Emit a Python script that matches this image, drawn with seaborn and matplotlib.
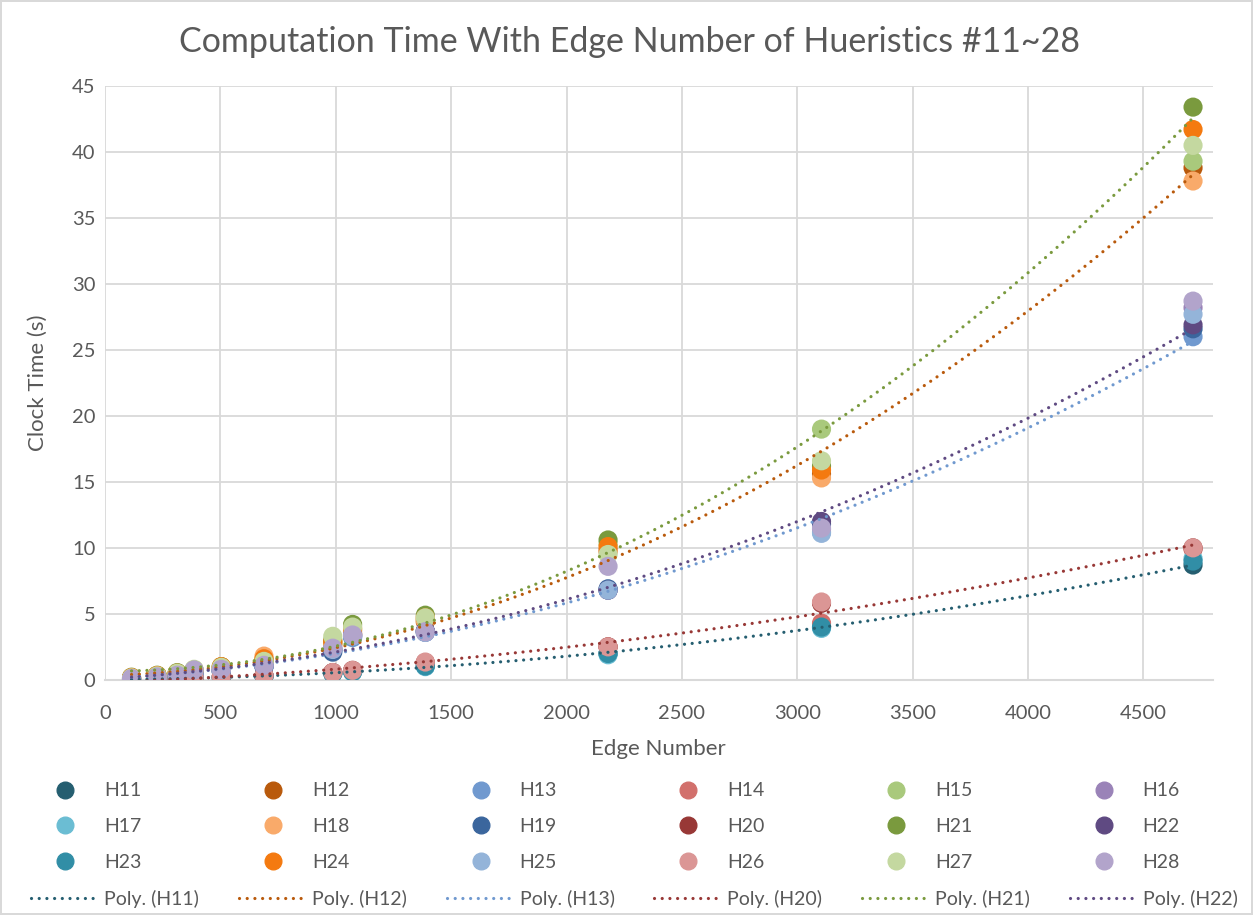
import numpy as np
import pandas as pd
import seaborn as sns
import matplotlib.pyplot as plt
from matplotlib.lines import Line2D

# edge numbers of the test graphs
edges = [115, 226, 313, 386, 504, 689, 987, 1073, 1388, 2180, 3105, 4715]

# clock time (s) per heuristic
H11 = [0.03, 0.06, 0.09, 0.12, 0.18, 0.28, 0.50, 0.62, 1.05, 2.0, 4.0, 8.7]
H12 = [0.15, 0.30, 0.45, 0.60, 0.90, 1.40, 2.70, 3.50, 4.40, 9.8, 15.6, 38.8]
H13 = [0.08, 0.20, 0.30, 0.45, 0.65, 1.00, 2.20, 3.20, 3.60, 6.8, 11.2, 26.0]
H14 = [0.04, 0.08, 0.12, 0.16, 0.22, 0.32, 0.55, 0.70, 1.30, 2.5, 4.3, 9.9]
H15 = [0.15, 0.30, 0.45, 0.65, 0.90, 1.30, 2.80, 3.80, 4.60, 10.3, 19.0, 39.3]
H16 = [0.08, 0.20, 0.30, 0.45, 0.70, 1.10, 2.40, 3.40, 3.60, 6.8, 11.4, 28.2]
H17 = [0.03, 0.06, 0.09, 0.12, 0.18, 0.27, 0.48, 0.60, 1.00, 1.9, 3.9, 9.2]
H18 = [0.15, 0.30, 0.50, 0.70, 1.00, 1.80, 2.80, 3.70, 4.50, 9.7, 15.3, 37.8]
H19 = [0.08, 0.20, 0.30, 0.45, 0.65, 1.00, 2.10, 3.30, 3.70, 6.9, 11.8, 26.6]
H20 = [0.04, 0.08, 0.12, 0.16, 0.22, 0.32, 0.55, 0.72, 1.30, 2.5, 5.8, 10.0]
H21 = [0.20, 0.35, 0.55, 0.75, 1.00, 1.50, 3.00, 4.20, 4.90, 10.6, 16.2, 43.4]
H22 = [0.08, 0.22, 0.30, 0.50, 0.70, 1.10, 2.30, 3.40, 3.70, 6.8, 12.0, 26.9]
H23 = [0.03, 0.06, 0.09, 0.12, 0.18, 0.28, 0.50, 0.62, 1.05, 2.0, 4.0, 9.0]
H24 = [0.18, 0.33, 0.50, 0.70, 1.00, 1.60, 2.90, 3.90, 4.70, 10.1, 15.9, 41.7]
H25 = [0.08, 0.20, 0.30, 0.45, 0.70, 1.10, 2.30, 3.30, 3.60, 6.8, 11.1, 27.7]
H26 = [0.04, 0.08, 0.12, 0.16, 0.23, 0.33, 0.56, 0.72, 1.35, 2.5, 5.9, 10.0]
H27 = [0.15, 0.30, 0.50, 0.80, 0.95, 1.40, 3.30, 4.00, 4.70, 9.5, 16.6, 40.5]
H28 = [0.10, 0.22, 0.35, 0.75, 0.80, 1.10, 2.40, 3.40, 3.65, 8.6, 11.5, 28.7]

names = ['H11', 'H12', 'H13', 'H14', 'H15', 'H16', 'H17', 'H18', 'H19',
         'H20', 'H21', 'H22', 'H23', 'H24', 'H25', 'H26', 'H27', 'H28']
values = [H11, H12, H13, H14, H15, H16, H17, H18, H19,
          H20, H21, H22, H23, H24, H25, H26, H27, H28]
colors = ['#255e70', '#b95a0c', '#7099cf', '#d2706c', '#a9c97c', '#9a83b8',
          '#6bbdd3', '#f9aa6a', '#3b669d', '#983836', '#7a9a3e', '#5f4a82',
          '#318ea6', '#f47a10', '#94b4d9', '#db9695', '#c4d8a0', '#b2a4cb']
trend_series = ['H11', 'H12', 'H13', 'H20', 'H21', 'H22']

df = pd.DataFrame({
    'series': np.repeat(names, len(edges)),
    'edges': edges * len(names),
    'time': np.concatenate(values),
})

sns.set_style('white')
plt.rcParams['font.family'] = ['Lato', 'DejaVu Sans']
grey = '#595959'

fig = plt.figure(figsize=(12.53, 9.15), dpi=100)
ax = fig.add_axes([0.0838, 0.257, 0.884, 0.649])

sns.scatterplot(data=df, x='edges', y='time', hue='series', palette=colors,
                s=190, linewidth=0, legend=False, ax=ax, zorder=3)

# 2nd order polynomial trendlines
pal = dict(zip(names, colors))
xs = np.linspace(min(edges), max(edges), 300)
for n in trend_series:
    c = np.polyfit(edges, values[names.index(n)], 2)
    ax.plot(xs, np.polyval(c, xs), color=pal[n], lw=2.3,
            linestyle=(0, (0.01, 2.4)), dash_capstyle='round', zorder=4)

ax.set_xlim(0, 4800)
ax.set_ylim(0, 45)
ax.set_xticks(range(0, 4501, 500))
ax.set_yticks(range(0, 46, 5))
ax.grid(True, color='#d9d9d9', lw=1.3)
ax.set_axisbelow(True)
for s in ['top', 'right', 'left']:
    ax.spines[s].set_visible(False)
ax.spines['bottom'].set_color('#d9d9d9')
ax.spines['bottom'].set_linewidth(1.5)
ax.tick_params(length=0, labelsize=14.5, colors=grey)
ax.tick_params(axis='x', pad=18)
ax.tick_params(axis='y', pad=7)
ax.set_xlabel('Edge Number', fontsize=16, color=grey, labelpad=12)
ax.set_ylabel('Clock Time (s)', fontsize=16, color=grey, labelpad=17)
fig.suptitle('Computation Time With Edge Number of Hueristics #11~28',
             x=0.502, y=0.972, fontsize=24.5, color=grey)

# legend laid out row by row like the original
handles = {}
for n, col in zip(names, colors):
    handles[n] = (Line2D([], [], marker='o', ls='none', ms=12, color=col, mec=col), n)
for n in trend_series:
    handles['p' + n] = (Line2D([], [], color=pal[n], lw=2.3, linestyle=(0, (0.01, 2.4)),
                               dash_capstyle='round'), 'Poly. (%s)' % n)
order = []
for j in range(6):
    order += [names[j], names[6 + j], names[12 + j], 'p' + trend_series[j]]
fig.legend([handles[k][0] for k in order], [handles[k][1] for k in order],
           ncol=6, loc='upper left', bbox_to_anchor=(0.011, 0.164),
           frameon=False, fontsize=14, labelcolor=grey, handlelength=3.5,
           handletextpad=0.25, columnspacing=2.05, labelspacing=0.96)

fig.patch.set_edgecolor('#d9d9d9')
fig.patch.set_linewidth(1.5)
fig.savefig('out.png', dpi=100)
